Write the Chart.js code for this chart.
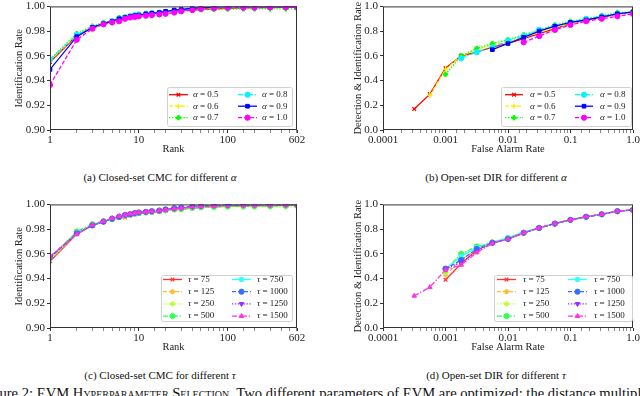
<!DOCTYPE html>
<html>
<head>
<meta charset="utf-8">
<script src="https://cdn.jsdelivr.net/npm/chart.js@4"></script>
<style>
  body { margin: 0; width: 640px; height: 396px; overflow: hidden; background: #fff; position: relative; font-family: "Liberation Serif", serif; color: #111; }
  canvas { position: absolute; }
  .cap { position: absolute; font-size: 11px; white-space: nowrap; transform: translate(-50%, -50%); }
  .fig { position: absolute; left: -20px; top: 385px; font-size: 14.6px; white-space: nowrap; }
  .sc { font-variant: small-caps; }
</style>
</head>
<body>
<canvas id="chartA" width="320" height="165" style="left:0;top:0"></canvas>
<canvas id="chartB" width="320" height="165" style="left:320px;top:0"></canvas>
<canvas id="chartC" width="320" height="165" style="left:0;top:198px"></canvas>
<canvas id="chartD" width="320" height="165" style="left:320px;top:198px"></canvas>

<div class="cap" style="left:160px;top:177px">(a) Closed-set CMC for different <i>α</i></div>
<div class="cap" style="left:496px;top:177px">(b) Open-set DIR for different <i>α</i></div>
<div class="cap" style="left:160px;top:375px">(c) Closed-set CMC for different <i>τ</i></div>
<div class="cap" style="left:496px;top:375px">(d) Open-set DIR for different <i>τ</i></div>
<div class="fig">Figure 2: EVM <span class="sc">Hyperparameter Selection</span>. Two different parameters of EVM are optimized: the distance multiplier</div>

<script>
// ---------- data ----------

// closed-set CMC, rank axis
const ranks = [1, 2, 3, 4, 5, 6, 7, 8, 9, 10, 12, 14, 17, 20, 25, 30, 40, 50, 70, 100, 150, 200, 300, 450, 602];

// open-set DIR, false alarm rate axis
const farRates = [0.000316, 0.000562, 0.001, 0.00178, 0.00316, 0.00562, 0.01, 0.0178, 0.0316, 0.0562, 0.1, 0.178, 0.316, 0.562, 1.0];

const alphaLabels = ['α = 0.5', 'α = 0.6', 'α = 0.7', 'α = 0.8', 'α = 0.9', 'α = 1.0'];
const tauLabels = ['τ = 75', 'τ = 125', 'τ = 250', 'τ = 500', 'τ = 750', 'τ = 1000', 'τ = 1250', 'τ = 1500'];

// (a) CMC for alpha
const cmcAlpha05 = [0.955, 0.9765, 0.983, 0.986, 0.988, 0.9895, 0.991, 0.992, 0.9925, 0.993, 0.9935, 0.994, 0.9945, 0.995, 0.996, 0.9965, 0.997, 0.9975, 0.998, 0.9985, 0.9988, 0.999, 0.999, 0.9992, 0.9993];
const cmcAlpha06 = [0.956, 0.977, 0.983, 0.9865, 0.988, 0.990, 0.991, 0.992, 0.9925, 0.993, 0.9935, 0.994, 0.9945, 0.995, 0.996, 0.9968, 0.9975, 0.998, 0.9985, 0.999, 0.999, 0.9992, 0.9993, 0.9995, 0.9995];
const cmcAlpha07 = [0.957, 0.978, 0.984, 0.987, 0.988, 0.991, 0.9915, 0.992, 0.993, 0.9935, 0.994, 0.9942, 0.995, 0.995, 0.9958, 0.9963, 0.997, 0.9973, 0.9975, 0.9978, 0.998, 0.998, 0.998, 0.998, 0.998];
const cmcAlpha08 = [0.957, 0.977, 0.983, 0.986, 0.988, 0.990, 0.991, 0.992, 0.9928, 0.9933, 0.994, 0.9945, 0.995, 0.9955, 0.9965, 0.997, 0.998, 0.9985, 0.999, 0.9993, 0.9995, 0.9997, 0.9998, 0.9998, 0.9998];
const cmcAlpha09 = [0.949, 0.9755, 0.983, 0.986, 0.988, 0.990, 0.991, 0.992, 0.9925, 0.993, 0.994, 0.9945, 0.995, 0.996, 0.997, 0.9975, 0.9985, 0.999, 0.9995, 1.0, 1.0, 1.0, 1.0, 1.0, 1.0];
const cmcAlpha10 = [0.9365, 0.973, 0.982, 0.9855, 0.987, 0.988, 0.990, 0.991, 0.9915, 0.992, 0.9925, 0.993, 0.9935, 0.994, 0.995, 0.996, 0.997, 0.998, 0.9985, 0.999, 0.999, 0.999, 0.9992, 0.9992, 0.9993];

// (b) DIR for alpha
const dirAlpha05 = [0.17, 0.29, 0.50, 0.60, 0.63, 0.67, 0.70, 0.74, 0.78, 0.82, 0.86, 0.89, 0.91, 0.94, 0.95];
const dirAlpha06 = [null, 0.28, 0.49, 0.60, 0.65, 0.69, 0.71, 0.75, 0.79, 0.83, 0.86, 0.89, 0.91, 0.94, 0.95];
const dirAlpha07 = [null, null, 0.45, 0.60, 0.66, 0.70, 0.73, 0.77, 0.81, 0.85, 0.88, 0.90, 0.925, 0.95, 0.955];
const dirAlpha08 = [null, null, null, 0.58, 0.63, 0.67, 0.72, 0.76, 0.81, 0.84, 0.87, 0.90, 0.92, 0.94, 0.955];
const dirAlpha09 = [null, null, null, null, null, 0.65, 0.70, 0.75, 0.80, 0.84, 0.87, 0.89, 0.915, 0.94, 0.955];
const dirAlpha10 = [null, null, null, null, null, null, null, 0.71, 0.76, 0.81, 0.85, 0.88, 0.90, 0.92, 0.94];

// (c) CMC for tau
const cmcTau75   = [0.954, 0.976, 0.983, 0.986, 0.988, 0.989, 0.9895, 0.991, 0.992, 0.9925, 0.993, 0.9935, 0.994, 0.995, 0.9955, 0.996, 0.997, 0.9975, 0.998, 0.9985, 0.999, 0.999, 0.999, 0.9992, 0.9993];
const cmcTau125  = [0.955, 0.9765, 0.983, 0.986, 0.988, 0.9895, 0.990, 0.9915, 0.992, 0.9928, 0.9933, 0.994, 0.9945, 0.995, 0.996, 0.9965, 0.9972, 0.9978, 0.9982, 0.9987, 0.999, 0.999, 0.9992, 0.9993, 0.9994];
const cmcTau250  = [0.956, 0.978, 0.9835, 0.9865, 0.988, 0.990, 0.991, 0.992, 0.9925, 0.993, 0.9935, 0.994, 0.9945, 0.995, 0.9955, 0.996, 0.997, 0.9975, 0.998, 0.998, 0.998, 0.998, 0.998, 0.998, 0.998];
const cmcTau500  = [0.957, 0.978, 0.984, 0.9865, 0.988, 0.990, 0.991, 0.992, 0.9925, 0.993, 0.9935, 0.994, 0.995, 0.9955, 0.996, 0.9965, 0.9972, 0.9978, 0.998, 0.9983, 0.9985, 0.9985, 0.9987, 0.9988, 0.999];
const cmcTau750  = [0.957, 0.977, 0.983, 0.986, 0.9885, 0.990, 0.991, 0.992, 0.9928, 0.9933, 0.994, 0.9945, 0.995, 0.9955, 0.9965, 0.997, 0.998, 0.9985, 0.999, 0.9993, 0.9995, 0.9997, 0.9998, 0.9998, 0.9998];
const cmcTau1000 = [0.957, 0.9765, 0.983, 0.986, 0.9885, 0.990, 0.9915, 0.992, 0.993, 0.9935, 0.994, 0.9945, 0.995, 0.996, 0.997, 0.9975, 0.9985, 0.999, 0.9995, 0.9998, 1.0, 1.0, 1.0, 1.0, 1.0];
const cmcTau1250 = [0.957, 0.9765, 0.983, 0.986, 0.9885, 0.990, 0.9915, 0.9925, 0.993, 0.9935, 0.994, 0.9945, 0.995, 0.996, 0.9965, 0.997, 0.998, 0.9985, 0.999, 0.9992, 0.9995, 0.9995, 0.9996, 0.9997, 0.9998];
const cmcTau1500 = [0.958, 0.976, 0.9835, 0.9865, 0.9888, 0.9905, 0.9915, 0.9925, 0.993, 0.9935, 0.994, 0.9945, 0.995, 0.9955, 0.9965, 0.997, 0.998, 0.9983, 0.9987, 0.999, 0.999, 0.999, 0.9992, 0.9993, 0.9993];

// (d) DIR for tau
const dirTau75   = [null, null, 0.39, 0.52, 0.63, 0.69, 0.72, 0.77, 0.81, 0.845, 0.875, 0.90, 0.92, 0.945, 0.955];
const dirTau125  = [null, null, 0.43, 0.55, 0.64, 0.69, 0.72, 0.77, 0.81, 0.845, 0.875, 0.90, 0.92, 0.945, 0.955];
const dirTau250  = [null, null, 0.45, 0.60, 0.65, 0.70, 0.73, 0.77, 0.81, 0.845, 0.875, 0.90, 0.92, 0.945, 0.955];
const dirTau500  = [null, null, 0.47, 0.60, 0.66, 0.69, 0.73, 0.77, 0.81, 0.845, 0.875, 0.90, 0.92, 0.945, 0.955];
const dirTau750  = [null, null, 0.48, 0.58, 0.65, 0.69, 0.73, 0.775, 0.81, 0.845, 0.875, 0.90, 0.92, 0.945, 0.955];
const dirTau1000 = [null, null, 0.48, 0.55, 0.64, 0.69, 0.72, 0.77, 0.81, 0.845, 0.875, 0.90, 0.92, 0.945, 0.955];
const dirTau1250 = [null, null, 0.48, 0.53, 0.62, 0.685, 0.72, 0.77, 0.81, 0.845, 0.875, 0.90, 0.92, 0.945, 0.955];
const dirTau1500 = [0.26, 0.33, 0.47, 0.51, 0.61, 0.685, 0.72, 0.77, 0.81, 0.845, 0.875, 0.90, 0.92, 0.945, 0.955];

// ---------- styles ----------

const DASHED = [4, 2];
const DOTTED = [1.3, 1.6];
const DASHDOT = [5, 1.8, 1.3, 1.8];

const alphaStyles = [
  { color: '#ff0000', dash: [], point: 'crossRot', pw: 1.3 },
  { color: '#f5f000', dash: DASHED, point: 'cross', pw: 1.3 },
  { color: '#00ff00', dash: DOTTED, point: 'cross', pw: 2.4 },
  { color: '#00f5ff', dash: DASHDOT, point: 'circle', pw: 1 },
  { color: '#0000ff', dash: [], point: 'rect', pw: 1 },
  { color: '#ff00ff', dash: DASHED, point: 'circle', pw: 1 }
];

const tauStyles = [
  { color: '#ff3333', dash: [], point: 'crossRot', pw: 1.3 },
  { color: '#ffbb33', dash: DASHED, point: 'star', pw: 1.2 },
  { color: '#bbff33', dash: DOTTED, point: 'cross', pw: 2.4 },
  { color: '#33ff55', dash: DASHDOT, point: 'circle', pw: 1 },
  { color: '#33ffff', dash: [], point: 'rect', pw: 1 },
  { color: '#3370ff', dash: DASHED, point: 'circle', pw: 1 },
  { color: '#8a33ff', dash: DOTTED, point: 'triangle', rot: 180, pw: 1 },
  { color: '#ff33dd', dash: DASHDOT, point: 'triangle', pw: 1 }
];

const FONT = '"Liberation Serif", "Times New Roman", serif';

// build line datasets from x values, series and styles
function buildDatasets(xs, series, labels, styles) {
  const n = series.length;
  return series.map((vals, i) => {
    const st = styles[i];
    return {
      label: labels[i],
      data: xs.map((x, j) => ({ x: x, y: vals[j] })),
      borderColor: st.color,
      backgroundColor: st.color,
      borderWidth: 1.3,
      borderDash: st.dash,
      pointStyle: st.point,
      pointRotation: st.rot || 0,
      pointRadius: 2.6,
      pointBorderWidth: st.pw,
      pointBackgroundColor: st.color,
      pointBorderColor: st.color,
      order: n - i,
      tension: 0
    };
  });
}

// frame around the plot area + matplotlib-like legend box
const framePlugin = {
  id: 'frameLegend',
  afterDraw(chart, args, opts) {
    const ctx = chart.ctx;
    const a = chart.chartArea;
    ctx.save();
    ctx.strokeStyle = '#333';
    ctx.lineWidth = 1;
    ctx.setLineDash([]);
    ctx.strokeRect(a.left + 0.5, a.top + 0.5, a.right - a.left - 1, a.bottom - a.top - 1);

    const L = opts;
    if (!L || !L.w) { ctx.restore(); return; }
    ctx.fillStyle = 'rgba(255,255,255,0.85)';
    ctx.strokeStyle = '#d0d0d0';
    ctx.beginPath();
    ctx.roundRect(L.x + 0.5, L.y + 0.5, L.w, L.h, 2);
    ctx.fill();
    ctx.stroke();

    const sets = chart.data.datasets;
    const rows = Math.ceil(sets.length / 2);
    sets.forEach((ds, i) => {
      const col = Math.floor(i / rows);
      const row = i % rows;
      const bx = L.x + (col ? L.col2 : 0);
      const by = L.y + L.row0 + row * L.rowH;
      // line sample
      ctx.strokeStyle = ds.borderColor;
      ctx.lineWidth = ds.borderWidth;
      ctx.setLineDash(ds.borderDash);
      ctx.beginPath();
      ctx.moveTo(bx + L.l0, by);
      ctx.lineTo(bx + L.l1, by);
      ctx.stroke();
      // marker
      ctx.setLineDash([]);
      ctx.fillStyle = ds.pointBackgroundColor;
      ctx.strokeStyle = ds.pointBorderColor;
      ctx.lineWidth = ds.pointBorderWidth;
      Chart.helpers.drawPoint(ctx, {
        pointStyle: ds.pointStyle, rotation: ds.pointRotation,
        radius: ds.pointRadius, borderWidth: ds.pointBorderWidth
      }, (bx + L.l0 + bx + L.l1) / 2, by);
      // label: greek symbol in italics, rest upright
      ctx.fillStyle = '#222';
      ctx.textBaseline = 'middle';
      ctx.textAlign = 'left';
      ctx.font = 'italic 9px ' + FONT;
      const sym = ds.label.charAt(0);
      ctx.fillText(sym, bx + L.tx, by);
      const w = ctx.measureText(sym).width;
      ctx.font = '9px ' + FONT;
      ctx.fillText(ds.label.slice(1), bx + L.tx + w, by);
    });
    ctx.restore();
  }
};

const LOG_LABELS = { '0.0001': '0.0001', '0.001': '0.001', '0.01': '0.01', '0.1': '0.1', '1': '1.0' };

function isDecade(v) {
  const l = Math.log10(v);
  return Math.abs(l - Math.round(l)) < 1e-6;
}

function makeChart(id, cfg) {
  new Chart(document.getElementById(id), {
    type: 'line',
    data: { datasets: cfg.datasets },
    plugins: [framePlugin],
    options: {
      responsive: false,
      animation: false,
      parsing: true,
      layout: { padding: cfg.pad },
      plugins: {
        legend: { display: false },
        tooltip: { enabled: false },
        frameLegend: cfg.legend
      },
      scales: {
        x: {
          type: 'logarithmic',
          min: cfg.xMin,
          max: cfg.xMax,
          afterFit: s => { s.height = 35; s.paddingLeft = 0; s.paddingRight = 0; },
          border: { display: false },
          grid: {
            drawOnChartArea: false,
            tickLength: 3,
            tickColor: c => (c.tick && cfg.xMajor(c.tick.value)) ? '#333' : '#888'
          },
          ticks: {
            autoSkip: false,
            maxRotation: 0,
            padding: 1,
            color: '#222',
            font: { family: FONT, size: 11 },
            callback: v => cfg.xLabel(v)
          },
          title: {
            display: true, text: cfg.xTitle, color: '#222',
            font: { family: FONT, size: 10.5 },
            padding: { top: 0, bottom: 9 }
          }
        },
        y: {
          min: cfg.yMin,
          max: cfg.yMax,
          afterFit: s => { s.width = cfg.yWidth; s.paddingTop = 0; s.paddingBottom = 0; },
          border: { display: false },
          grid: { drawOnChartArea: false, tickLength: 3, tickColor: '#333' },
          ticks: {
            stepSize: cfg.yStep,
            padding: 2,
            color: '#222',
            font: { family: FONT, size: 11 },
            callback: v => v.toFixed(cfg.yDigits)
          },
          title: {
            display: true, text: cfg.yTitle, color: '#222',
            font: { family: FONT, size: 10.5 },
            padding: { top: cfg.yTitlePad }
          }
        }
      }
    }
  });
}

const rankMajor = v => [1, 10, 100, 602].includes(v);
const rankLabel = v => rankMajor(v) ? String(v) : '';
const farLabel = v => isDecade(v) ? LOG_LABELS[String(Math.pow(10, Math.round(Math.log10(v))))] || '' : '';

// (a)
makeChart('chartA', {
  datasets: buildDatasets(ranks, [cmcAlpha05, cmcAlpha06, cmcAlpha07, cmcAlpha08, cmcAlpha09, cmcAlpha10], alphaLabels, alphaStyles),
  pad: { left: 0, top: 4, right: 23, bottom: 0 },
  xMin: 1, xMax: 602, xTitle: 'Rank', xMajor: rankMajor, xLabel: rankLabel,
  yMin: 0.9, yMax: 1.0, yStep: 0.02, yDigits: 2, yWidth: 50,
  yTitle: 'Identification Rate', yTitlePad: 13,
  legend: { x: 167, y: 87, w: 125, h: 39, row0: 7.7, rowH: 11.5, col2: 69, l0: 2, l1: 21, tx: 26 }
});

// (b)
makeChart('chartB', {
  datasets: buildDatasets(farRates, [dirAlpha05, dirAlpha06, dirAlpha07, dirAlpha08, dirAlpha09, dirAlpha10], alphaLabels, alphaStyles),
  pad: { left: 0, top: 3, right: 7, bottom: 0 },
  xMin: 0.0001, xMax: 1, xTitle: 'False Alarm Rate', xMajor: isDecade, xLabel: farLabel,
  yMin: 0, yMax: 1, yStep: 0.2, yDigits: 1, yWidth: 63,
  yTitle: 'Detection & Identification Rate', yTitlePad: 32,
  legend: { x: 181, y: 87, w: 130, h: 39, row0: 7.7, rowH: 11.5, col2: 70, l0: 4, l1: 22, tx: 29 }
});

// (c)
makeChart('chartC', {
  datasets: buildDatasets(ranks, [cmcTau75, cmcTau125, cmcTau250, cmcTau500, cmcTau750, cmcTau1000, cmcTau1250, cmcTau1500], tauLabels, tauStyles),
  pad: { left: 0, top: 3, right: 23, bottom: 0 },
  xMin: 1, xMax: 602, xTitle: 'Rank', xMajor: rankMajor, xLabel: rankLabel,
  yMin: 0.9, yMax: 1.0, yStep: 0.02, yDigits: 2, yWidth: 50,
  yTitle: 'Identification Rate', yTitlePad: 13,
  legend: { x: 161, y: 77, w: 131, h: 46, row0: 4.5, rowH: 12.2, col2: 69, l0: 2, l1: 21, tx: 27 }
});

// (d)
makeChart('chartD', {
  datasets: buildDatasets(farRates, [dirTau75, dirTau125, dirTau250, dirTau500, dirTau750, dirTau1000, dirTau1250, dirTau1500], tauLabels, tauStyles),
  pad: { left: 0, top: 3, right: 7, bottom: 0 },
  xMin: 0.0001, xMax: 1, xTitle: 'False Alarm Rate', xMajor: isDecade, xLabel: farLabel,
  yMin: 0, yMax: 1, yStep: 0.2, yDigits: 1, yWidth: 63,
  yTitle: 'Detection & Identification Rate', yTitlePad: 32,
  legend: { x: 174, y: 77, w: 138, h: 46, row0: 4.5, rowH: 12.2, col2: 71, l0: 3, l1: 22, tx: 29 }
});
</script>
</body>
</html>
